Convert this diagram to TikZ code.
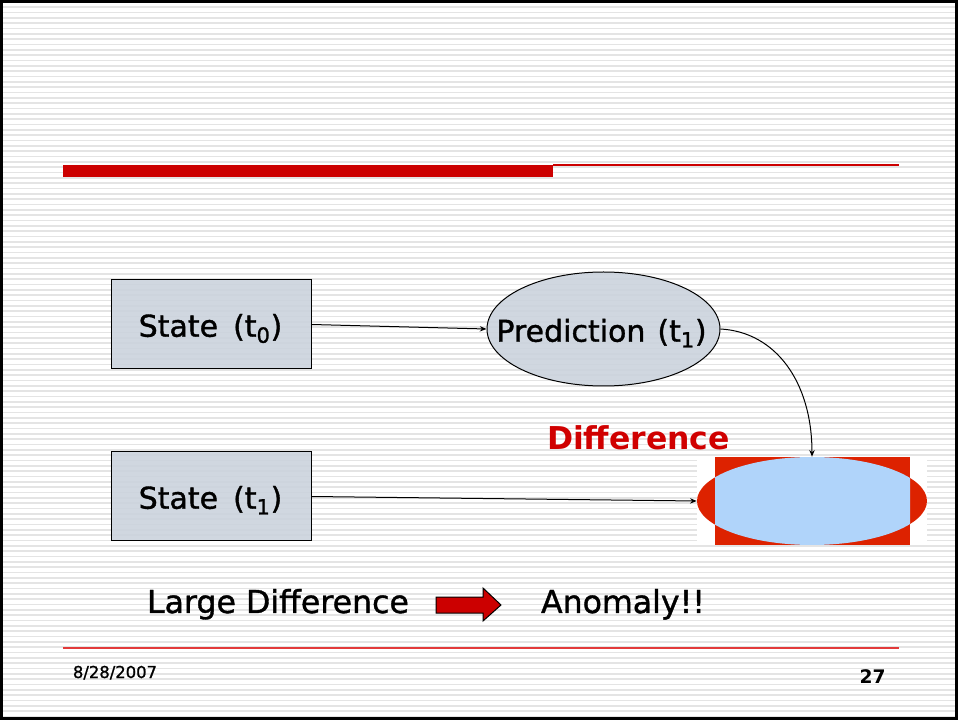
\documentclass[tikz,border=0pt]{standalone}
\usepackage{fontspec}
\setmainfont{DejaVu Sans}
\newfontfamily\heavyfont[FakeBold=1.2]{DejaVu Sans}
\usetikzlibrary{arrows.meta,shapes.geometric}
\definecolor{stripe}{HTML}{E4E4E4}
\definecolor{barred}{HTML}{CC0000}
\definecolor{linered}{HTML}{E23A3A}
\definecolor{boxfill}{HTML}{CBD3DD}
\definecolor{imgred}{HTML}{DD2200}
\definecolor{imgblue}{HTML}{B0D4FA}
\definecolor{diffred}{HTML}{D00000}
\begin{document}
\begin{tikzpicture}[x=0.75pt,y=-0.75pt,
  statebox/.style={draw=black, line width=0.75pt, fill=boxfill, fill opacity=0.9, minimum width=150pt, minimum height=66.75pt, inner sep=0pt},
  bigtxt/.style={font=\heavyfont\fontsize{22.5}{27}\selectfont, anchor=base, inner sep=0pt},
  midtxt/.style={font=\heavyfont\fontsize{23.7}{28}\selectfont, anchor=base, inner sep=0pt},
  conn/.style={draw=black, line width=0.75pt, -{Stealth[length=5pt,width=4pt]}},
]
\useasboundingbox (0,0) rectangle (958,720);
% background
\fill[white] (0,0) rectangle (958,720);
\foreach \i in {0,...,135} \fill[stripe] (0,{\i*5.333+1}) rectangle (958,{\i*5.333+2.8});
\draw[line width=2pt] (1.3,1.3) rectangle (956.7,718.7);
% title bar
\fill[barred] (63,165) rectangle (553,177);
\fill[barred] (553,164) rectangle (899,165.6);
% bottom line
\draw[linered, line width=0.9pt] (63,648) -- (899,648);
% state boxes
\node[statebox] (s0) at (211,324.5) {};
\node[bigtxt] (s0txt) at (210.5,336.7) {State\hspace{0.5em}(t\textsubscript{0})};
\node[statebox] (s1) at (211,496.5) {};
\node[bigtxt] (s1txt) at (210.5,508.7) {State\hspace{0.5em}(t\textsubscript{1})};
% prediction ellipse
\node[ellipse, draw=black, line width=0.75pt, fill=boxfill, fill opacity=0.9, minimum width=174.75pt, minimum height=85.5pt, inner sep=0pt] (pred) at (603.5,329) {};
\node[bigtxt] (predtxt) at (601.5,341.7) {Prediction\hspace{0.4em}(t\textsubscript{1})};
% difference image
\fill[white] (697,457) rectangle (927,545);
\node[ellipse, fill=imgred, minimum width=172.5pt, minimum height=66pt, inner sep=0pt] (diff) at (812,501) {};
\fill[imgred] (715,457) rectangle (910,545);
\begin{scope}
  \clip (715,457) rectangle (910,545);
  \fill[imgblue] (diff.center) ellipse [x radius=115, y radius=44];
\end{scope}
\node[font=\bfseries\fontsize{23.6}{28}\selectfont, text=diffred, anchor=base, inner sep=0pt] (difftxt) at (638.5,450) {Difference};
% connectors
\draw[conn] (s0.east) -- (pred.west);
\draw[conn] (s1.east) -- (diff.west);
\draw[conn] (pred.east) .. controls +(55,3) and +(0,-75) .. (diff.north);
% bottom statement
\node[midtxt] (large) at (278,613) {Large Difference};
\node[midtxt] (anom) at (623,613) {Anomaly!!};
\draw[fill=barred, line width=0.75pt, line join=miter]
  (436,597) -- (483,597) -- (483,588) -- (501,605) -- (483,621) -- (483,613) -- (436,613) -- cycle;
% footer
\node[font=\heavyfont\fontsize{12.3}{14}\selectfont, anchor=base, inner sep=0pt] (date) at (115,678) {8/28/2007};
\node[font=\bfseries\fontsize{14}{16}\selectfont, anchor=base, inner sep=0pt] (page) at (872.5,683) {27};
\end{tikzpicture}
\end{document}
